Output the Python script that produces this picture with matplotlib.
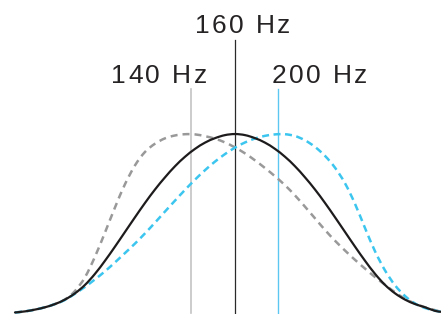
import matplotlib
matplotlib.use("Agg")
import matplotlib.pyplot as plt
from matplotlib.path import Path
from matplotlib.patches import PathPatch
from matplotlib.font_manager import FontProperties, findfont, get_font

# common sample positions (arbitrary position units)
pos_x = [15, 25, 35, 45, 55, 65, 75, 85, 95, 105, 115, 125, 135, 145, 155, 165, 175,
         185, 195, 205, 215, 225, 235, 245, 255, 265, 275, 285, 295, 305, 315, 325,
         335, 345, 355, 365, 375, 385, 395, 405, 415, 425, 435, 441]

# relative response (% of peak)
black_y = [0.3, 0.9, 1.9, 3.2, 5.0, 7.5, 11.0, 15.7, 21.9, 29.2, 37.1, 45.3, 53.5, 61.5,
           69.0, 75.8, 82.0, 87.3, 91.7, 95.2, 97.7, 99.4, 100.0, 99.4, 97.7, 95.2, 91.7,
           87.3, 82.0, 75.8, 69.0, 61.5, 53.5, 45.3, 37.1, 29.2, 21.9, 15.7, 11.0, 7.5,
           5.0, 3.2, 1.2, 0.7]
gray_y = [0.3, 0.9, 1.9, 3.2, 5.0, 7.6, 12.3, 20.0, 31.5, 45.0, 59.0, 72.0, 82.5, 90.0,
          94.6, 97.6, 99.2, 99.9, 99.8, 98.8, 97.4, 95.3, 92.5, 89.2, 85.3, 81.0, 76.4,
          71.4, 65.7, 59.4, 52.9, 46.4, 40.4, 34.9, 29.7, 24.8, 20.1, 15.8, 11.6, 8.0,
          5.3, 3.2, 1.6, 0.8]
blue_y = [0.3, 0.9, 1.9, 3.2, 5.0, 7.3, 10.8, 14.6, 18.8, 23.3, 28.3, 33.5, 38.8, 44.5,
          50.5, 56.7, 62.8, 68.8, 74.5, 79.8, 84.6, 88.8, 92.4, 95.3, 97.5, 99.0, 99.8,
          99.9, 98.9, 96.5, 92.8, 87.8, 81.2, 72.5, 61.0, 47.5, 34.5, 23.8, 15.5, 9.5,
          5.3, 2.8, 1.3, 0.7]

marker_labels = ["140 Hz", "160 Hz", "200 Hz"]
marker_x = [191, 235, 278]


def smooth_path(xs, ys):
    """Catmull-Rom spline through the data points, as cubic Bezier segments."""
    pts = list(zip(xs, ys))
    n = len(pts)
    verts = [pts[0]]
    codes = [Path.MOVETO]
    for i in range(n - 1):
        p0 = pts[max(i - 1, 0)]
        p1 = pts[i]
        p2 = pts[i + 1]
        p3 = pts[min(i + 2, n - 1)]
        c1 = (p1[0] + (p2[0] - p0[0]) / 6.0, p1[1] + (p2[1] - p0[1]) / 6.0)
        c2 = (p2[0] - (p3[0] - p1[0]) / 6.0, p2[1] - (p3[1] - p1[1]) / 6.0)
        verts += [c1, c2, p2]
        codes += [Path.CURVE4] * 3
    return Path(verts, codes)


fig = plt.figure(figsize=(4.41, 3.14), dpi=100)
ax = fig.add_axes([0, 0, 1, 1])
ax.set_xlim(0, 441)
ax.set_ylim(-0.56, 174.9)
ax.axis("off")

# marker lines
ax.plot([marker_x[0]] * 2, [0, 125.1], color="#c3c3c3", lw=1.2, zorder=1)
ax.plot([marker_x[1]] * 2, [0, 152.5], color="#2a2a2a", lw=0.9, zorder=1)
ax.plot([marker_x[2]] * 2, [0, 125.1], color="#5cc8f2", lw=1.0, zorder=1)

# curves
ax.add_patch(PathPatch(smooth_path(pos_x, gray_y), fill=False, edgecolor="#999999",
                       lw=1.8, ls=(0, (2.8, 2.0)), zorder=2))
ax.add_patch(PathPatch(smooth_path(pos_x, blue_y), fill=False, edgecolor="#3cc6ef",
                       lw=1.8, ls=(0, (2.8, 1.8)), zorder=3))
ax.add_patch(PathPatch(smooth_path(pos_x, black_y), fill=False, edgecolor="#1e1b1c",
                       lw=1.6, zorder=4, capstyle="round", joinstyle="round"))

# labels with letter spacing
FS = 19
TRACK = 2.4  # px
fp = FontProperties(family="Liberation Sans", size=FS)
font = get_font(findfont(fp))
font.set_size(FS, 100)


def tracked_text(cx, y, s):
    advs = []
    for ch in s:
        g = font.load_char(ord(ch))
        advs.append(g.linearHoriAdvance / 65536.0)
    total = sum(advs) + TRACK * (len(s) - 1)
    x = cx - total / 2.0
    for ch, a in zip(s, advs):
        if ch != " ":
            ax.text(x, y, ch, fontproperties=fp, color="#262324",
                    ha="left", va="baseline")
        x += a + TRACK


tracked_text(159, 128.5, marker_labels[0])
tracked_text(242.5, 156.4, marker_labels[1])
tracked_text(319.5, 128.5, marker_labels[2])

fig.savefig("out.png", dpi=100)
